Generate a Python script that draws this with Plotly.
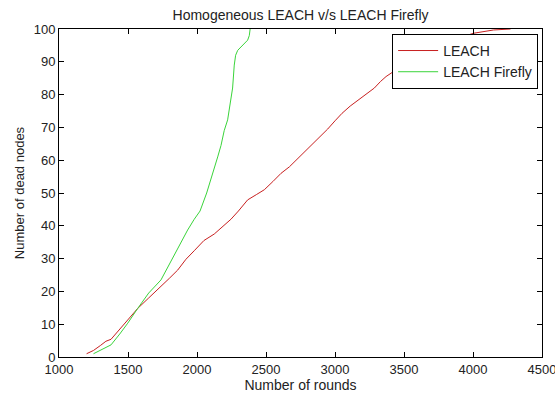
import plotly.graph_objects as go

# LEACH (red)
leach_rounds = [1200, 1250, 1300, 1340, 1377, 1420, 1473, 1520, 1570, 1650, 1739, 1800,
                1860, 1920, 1980, 2050, 2125, 2200, 2246, 2300, 2367, 2430, 2488, 2550,
                2609, 2670, 2730, 2790, 2850, 2900, 2947, 3000, 3051, 3110, 3174, 3230,
                3285, 3330, 3370, 3430, 3500, 3600, 3700, 3800, 3900, 4004, 4080, 4149, 4272]
leach_dead = [1, 2, 3.5, 4.8, 5.4, 7.5, 9.8, 12.3, 14.8, 18, 21.4, 24,
              26.5, 29.8, 32.4, 35.5, 37.5, 40.3, 42, 44.5, 47.9, 49.5, 51, 53.5,
              56, 58, 60.5, 63, 65.5, 67.5, 69.5, 72, 74.3, 76.5, 78.5, 80.5,
              82, 84, 85.5, 87.2, 89, 91.5, 93.5, 95.5, 97.3, 98.7, 99.2, 99.7, 100]

# LEACH Firefly (green)
firefly_rounds = [1250, 1300, 1377, 1440, 1498, 1570, 1650, 1739, 1804, 1870, 1932, 1980,
                  2022, 2070, 2116, 2150, 2174, 2197, 2222, 2246, 2258, 2270, 2280, 2295,
                  2330, 2367, 2379, 2385]
firefly_dead = [1, 2, 3.7, 7, 10.3, 14.8, 19.5, 23.5, 28.6, 34, 38.7, 42,
                44.5, 50, 56, 61, 64.5, 69, 72.3, 79.4, 82, 89, 92, 93.5,
                95, 96.6, 98, 100]

x_ticks = [1000, 1500, 2000, 2500, 3000, 3500, 4000, 4500]
y_ticks = [0, 10, 20, 30, 40, 50, 60, 70, 80, 90, 100]

FONT = "Liberation Sans, Arial, sans-serif"

fig = go.Figure()
fig.add_trace(go.Scatter(x=leach_rounds, y=leach_dead, mode="lines", name="LEACH",
                         line=dict(color="#c82020", width=1)))
fig.add_trace(go.Scatter(x=firefly_rounds, y=firefly_dead, mode="lines", name="LEACH Firefly",
                         line=dict(color="#3ad43a", width=1)))

axis_common = dict(showgrid=False, zeroline=False, showline=True, linecolor="black",
                   linewidth=1, mirror="ticks", ticks="inside", ticklen=5,
                   tickcolor="black", ticklabeloverflow="allow", automargin=False,
                   tickfont=dict(family=FONT, size=13, color="#222"))

fig.update_layout(
    width=555, height=394,
    margin=dict(l=59, r=13, t=29, b=37),
    paper_bgcolor="white", plot_bgcolor="white",
    title=dict(text="Homogeneous LEACH v/s LEACH Firefly", x=0.5415, xanchor="center",
               y=0.962, yanchor="middle", font=dict(family=FONT, size=14, color="#222")),
    xaxis=dict(range=[1000, 4500], tickvals=x_ticks,
               title=dict(text="Number of rounds", font=dict(family=FONT, size=14, color="#222"),
                          standoff=3),
               **axis_common),
    yaxis=dict(range=[0, 100], tickvals=y_ticks,
               title=dict(text="Number of dead nodes", font=dict(family=FONT, size=13, color="#222"),
                          standoff=6),
               **axis_common),
    legend=dict(x=0.992, xanchor="right", y=0.985, yanchor="top",
                bgcolor="white", bordercolor="black", borderwidth=1,
                font=dict(family=FONT, size=14, color="#222"),
                itemwidth=40, tracegroupgap=0),
    showlegend=True,
)

fig.write_html("out.html")
